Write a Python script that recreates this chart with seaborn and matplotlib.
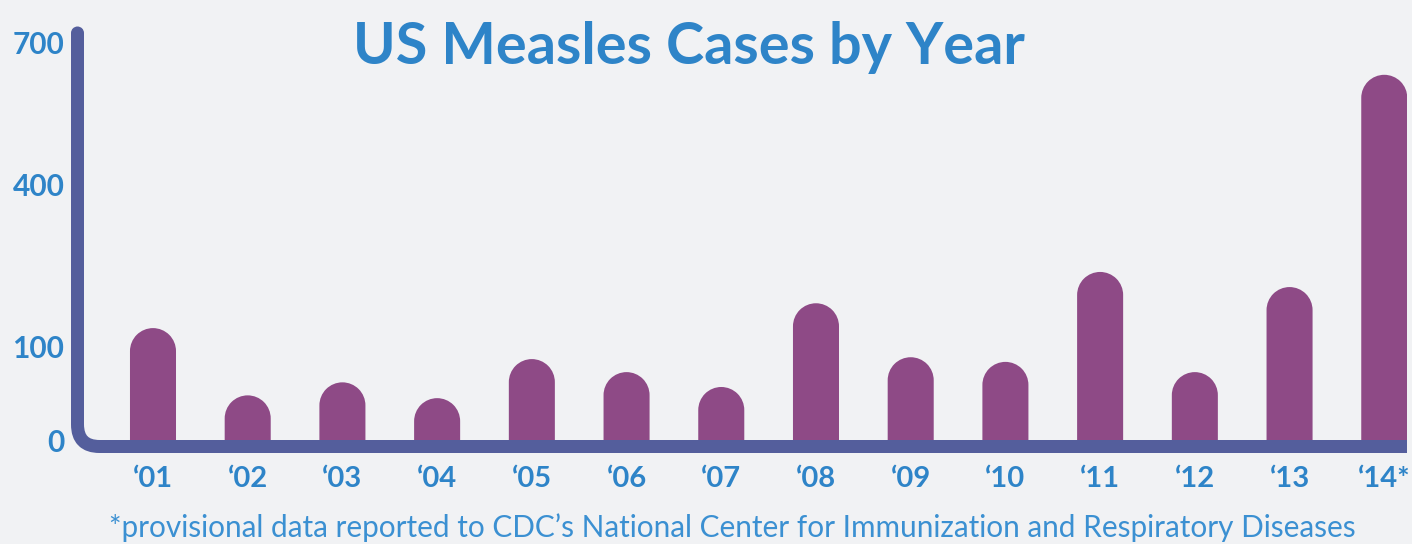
import numpy as np
import matplotlib
matplotlib.use("Agg")
import matplotlib.pyplot as plt
import seaborn as sns
from matplotlib.patches import PathPatch, Circle
from matplotlib.path import Path
from matplotlib.transforms import IdentityTransform

years = ["\u201801", "\u201802", "\u201803", "\u201804", "\u201805", "\u201806", "\u201807",
         "\u201808", "\u201809", "\u201810", "\u201811", "\u201812", "\u201813", "\u201814*"]
cases = [135, 48, 62, 45, 87, 73, 57, 181, 89, 84, 239, 73, 211, 632]
y_ticks = [0, 100, 400, 700]
y_labels = ["0", "100", "400", "700"]

# the original y axis is uneven: value -> pixels above zero
scale_vals = [0, 100, 400, 700, 1000]
scale_px = [0, 93, 255, 397.5, 540]


def fwd(v):
    return np.interp(v, scale_vals, scale_px)


def inv(p):
    return np.interp(p, scale_px, scale_vals)


BG = "#f1f2f4"
BAR = "#8e4a86"
AXIS = "#545e9c"
BLUE = "#2e84c8"
NOTE = "#3b90d2"

W, H = 1412, 544
sns.set_style("white")
plt.rcParams["font.family"] = ["Lato", "DejaVu Sans"]

fig = plt.figure(figsize=(W / 100, H / 100), dpi=100, facecolor=BG)
# axes: left edge = vertical axis line, bottom = zero line
ax = fig.add_axes([77.5 / W, 104 / H, (1407 - 77.5) / W, (440 - 33) / H])
ax.set_facecolor(BG)

sns.barplot(x=years, y=cases, color=BAR, width=0.486, saturation=1, ax=ax)

ax.set_yscale("function", functions=(fwd, inv))
ax.set_xlim(-0.797, 13.24)
ax.set_ylim(0, inv(407))
for s in ax.spines.values():
    s.set_visible(False)
ax.set_xlabel("")
ax.set_ylabel("")
ax.set_yticks(y_ticks)
ax.set_yticklabels(y_labels)
ax.tick_params(axis="y", length=0, pad=9.5, labelsize=21.5, labelcolor=BLUE)
ax.tick_params(axis="x", length=0, pad=19, labelsize=21, labelcolor=BLUE)
for lab in ax.get_xticklabels() + ax.get_yticklabels():
    lab.set_fontweight("bold")

fig.canvas.draw()

# rounded tops: rebuild each bar in pixel space with a half-circle cap
arc = Path.arc(0, 180)
for p in list(ax.patches):
    x0, y0 = ax.transData.transform((p.get_x(), 0))
    x1, y1 = ax.transData.transform((p.get_x() + p.get_width(), p.get_height()))
    r = (x1 - x0) / 2
    xc, yc = x0 + r, y1 - r
    cap = arc.vertices * r + [xc, yc]
    verts = [(x0, y0), (x1, y0)] + [tuple(v) for v in cap] + [(x0, y0)]
    codes = [Path.MOVETO, Path.LINETO] + [Path.LINETO] + list(arc.codes[1:]) + [Path.CLOSEPOLY]
    p.remove()
    ax.add_patch(PathPatch(Path(verts, codes), fc=BAR, ec="none", transform=IdentityTransform()))
ax.set_xlim(-0.797, 13.24)
ax.set_ylim(0, inv(407))

# axis line with a rounded corner
vx, top_y, hy, rc = 77.5, H - 33, H - 446.5, 22
verts = [(vx, top_y), (vx, hy + rc), (vx, hy), (vx + rc, hy), (1407, hy)]
codes = [Path.MOVETO, Path.LINETO, Path.CURVE3, Path.CURVE3, Path.LINETO]
fig.add_artist(PathPatch(Path(verts, codes), fill=False, ec=AXIS, lw=13 * 0.72,
                         capstyle="butt", joinstyle="round", transform=IdentityTransform(), zorder=5))
fig.add_artist(Circle((vx, top_y), 6.5, fc=AXIS, ec="none", transform=IdentityTransform(), zorder=5))

fig.text(689 / W, 1 - 64 / H, "US Measles Cases by Year", ha="center", va="baseline",
         fontsize=41.5, fontweight="bold", color=BLUE)
fig.text(732 / W, 1 - 537 / H,
         "*provisional data reported to CDC\u2019s National Center for Immunization and Respiratory Diseases",
         ha="center", va="baseline", fontsize=21.4, color=NOTE)

fig.savefig("out.png", dpi=100, facecolor=BG)
